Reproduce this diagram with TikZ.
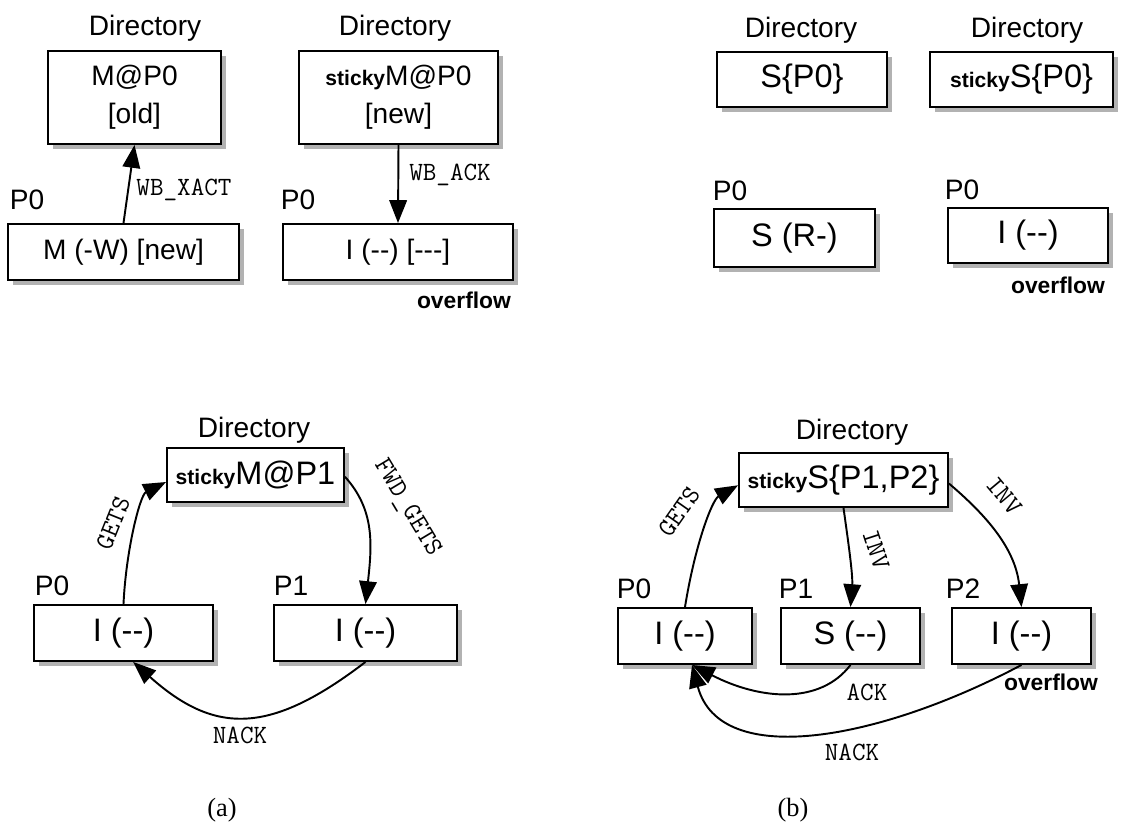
\documentclass[tikz,border=0pt]{standalone}
\usepackage{fontspec}
\setmainfont{Liberation Sans}
\newfontfamily\capfont{Liberation Serif}
\usepackage{tikz}
\usetikzlibrary{arrows.meta,shadows}

\newcommand{\stk}{{\fontsize{12}{14}\selectfont\bfseries sticky}}

\tikzset{
  box/.style={draw, line width=1.1pt, fill=white, align=center,
    inner sep=0pt, font=\fontsize{16}{21.5}\selectfont,
    drop shadow={shadow xshift=3pt, shadow yshift=-3pt, opacity=.3, fill=black}},
  big/.style={font=\fontsize{18.5}{22}\selectfont},
  lbl/.style={font=\fontsize{16}{19}\selectfont, inner sep=0pt},
  msg/.style={font=\ttfamily\fontsize{15}{17}\selectfont, inner sep=0pt},
  ovf/.style={font=\bfseries\fontsize{13}{15}\selectfont, inner sep=0pt},
  msgarrow/.style={-{Triangle[length=13pt,width=10pt]}, line width=1.1pt}
}

\begin{document}
\begin{tikzpicture}[x=0.02cm, y=-0.02cm]
  \useasboundingbox (0,0) rectangle (1144,827);

  % (a) top: write-back
  \node[lbl] (a1dirl) at (145,28) {Directory};
  \node[box, minimum width=3.46cm, minimum height=1.86cm] (a1dir) at (134.5,97.5) {M@P0\\{}[old]};
  \node[lbl] (a1p0l) at (27,200) {P0};
  \node[box, minimum width=4.62cm, minimum height=1.12cm] (a1p0) at (123.5,252) {M (-W) [new]};
  \draw[msgarrow] (a1p0.north) -- (a1dir.south);
  \node[msg] (wbx) at (184,190) {WB\_XACT};

  \node[lbl] (a2dirl) at (395,28) {Directory};
  \node[box, minimum width=3.98cm, minimum height=1.86cm] (a2dir) at (398.5,97.5) {\stk M@P0\\{}[new]};
  \node[lbl] (a2p0l) at (298,200) {P0};
  \node[box, minimum width=4.6cm, minimum height=1.12cm] (a2p0) at (398,252) {I (-{}-) [-{}-{}-]};
  \draw[msgarrow] (a2dir.south) -- (a2p0.north);
  \node[msg] (wba) at (450,175) {WB\_ACK};
  \node[ovf] (a2ovf) at (464,300) {overflow};

  % (b) top: shared
  \node[lbl] (b1dirl) at (801,30) {Directory};
  \node[box, big, minimum width=3.4cm, minimum height=1.1cm] (b1dir) at (802,79.5) {S\{P0\}};
  \node[lbl] (b1p0l) at (730,191) {P0};
  \node[box, big, minimum width=3.22cm, minimum height=1.16cm] (b1p0) at (794.5,238) {S (R-)};

  \node[lbl] (b2dirl) at (1027,30) {Directory};
  \node[box, big, minimum width=3.66cm, minimum height=1.1cm] (b2dir) at (1021.5,79.5) {\stk S\{P0\}};
  \node[lbl] (b2p0l) at (962,190) {P0};
  \node[box, big, minimum width=3.2cm, minimum height=1.1cm] (b2p0) at (1028,235.5) {I (-{}-)};
  \node[ovf] (b2ovf) at (1058,285) {overflow};

  % (a) bottom: sticky M
  \node[lbl] (cdirl) at (254,430) {Directory};
  \node[box, big, minimum width=3.54cm, minimum height=1.08cm] (cdir) at (255.5,475) {\stk M@P1};
  \node[lbl] (cp0l) at (52,586) {P0};
  \node[box, big, minimum width=3.58cm, minimum height=1.12cm] (cp0) at (123.5,633) {I (-{}-)};
  \node[lbl] (cp1l) at (291,586) {P1};
  \node[box, big, minimum width=3.66cm, minimum height=1.12cm] (cp1) at (365.5,633) {I (-{}-)};
  \draw[msgarrow] (cp0.north) .. controls (126,550) and (140,495) .. ([yshift=-4pt]cdir.west);
  \node[msg, rotate=68] at (113,523) {GETS};
  \draw[msgarrow] ([yshift=-1pt]cdir.east) .. controls (375,510) and (372,545) .. (cp1.north);
  \node[msg, rotate=-59] at (407,508) {FWD\_GETS};
  \draw[msgarrow] (cp1.south) .. controls (270,735) and (215,735) .. ([xshift=5.5pt]cp0.south);
  \node[msg] at (240,735) {NACK};

  % (b) bottom: sticky S
  \node[lbl] (ddirl) at (852,432) {Directory};
  \node[box, big, minimum width=4.18cm, minimum height=1.08cm] (ddir) at (843.5,480) {\stk S\{P1,P2\}};
  \node[lbl] (dp0l) at (634,589) {P0};
  \node[box, big, minimum width=2.68cm, minimum height=1.12cm] (dp0) at (685,636) {I (-{}-)};
  \node[lbl] (dp1l) at (796,589) {P1};
  \node[box, big, minimum width=2.78cm, minimum height=1.12cm] (dp1) at (850.5,636) {S (-{}-)};
  \node[lbl] (dp2l) at (963,589) {P2};
  \node[box, big, minimum width=2.78cm, minimum height=1.12cm] (dp2) at (1021.5,636) {I (-{}-)};
  \node[ovf] (dovf) at (1051,682) {overflow};
  \draw[msgarrow] (dp0.north) .. controls (695,545) and (712,500) .. ([yshift=-3pt]ddir.west);
  \node[msg, rotate=55] at (679,512) {GETS};
  \draw[msgarrow] (ddir.south) .. controls (848,540) and (853,575) .. (dp1.north);
  \node[msg, rotate=-72] at (876,550) {INV};
  \draw[msgarrow] ([yshift=-2pt]ddir.east) .. controls (980,510) and (1015,545) .. (dp2.north);
  \node[msg, rotate=-50] at (1004,496) {INV};
  \draw[msgarrow] (dp1.south) .. controls (820,705) and (760,700) .. ([xshift=4pt]dp0.south);
  \node[msg] at (867,692) {ACK};
  \draw[msgarrow] (dp2.south) .. controls (880,740) and (720,770) .. ([xshift=4pt]dp0.south);
  \node[msg] at (852,752) {NACK};

  % captions
  \node[font=\capfont\fontsize{15}{18}\selectfont] (capa) at (222,810) {(a)};
  \node[font=\capfont\fontsize{15}{18}\selectfont] (capb) at (793,810) {(b)};
\end{tikzpicture}
\end{document}
